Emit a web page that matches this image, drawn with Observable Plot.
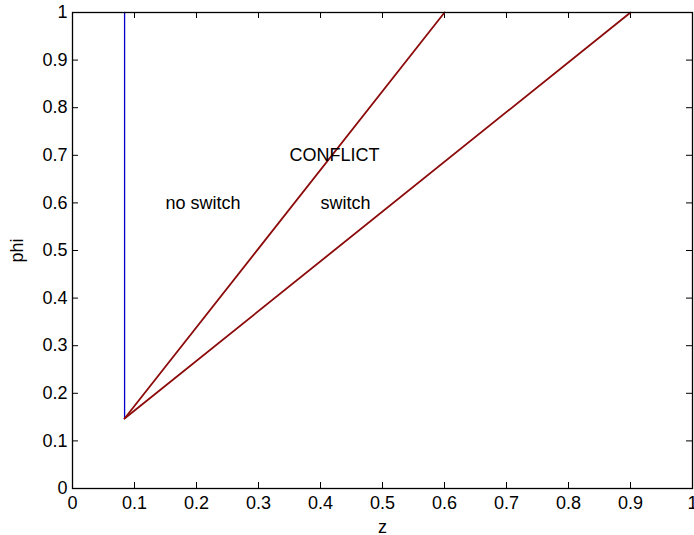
<!DOCTYPE html>
<html>
<head>
<meta charset="utf-8">
<script src="https://cdn.jsdelivr.net/npm/d3@7"></script>
<script src="https://cdn.jsdelivr.net/npm/@observablehq/plot@0.6"></script>
<style>
  html, body { margin: 0; padding: 0; background: #fff; }
  #chart svg { display: block; }
</style>
</head>
<body>
<div id="chart"></div>
<script>
// Tick values
const xTicks = [0, 0.1, 0.2, 0.3, 0.4, 0.5, 0.6, 0.7, 0.8, 0.9, 1];
const yTicks = [0, 0.1, 0.2, 0.3, 0.4, 0.5, 0.6, 0.7, 0.8, 0.9, 1];

// Boundary lines (z, phi endpoints)
const verticalZ = [0.084, 0.084];
const verticalPhi = [0.147, 1];
const upperZ = [0.084, 0.6];
const upperPhi = [0.147, 1];
const lowerZ = [0.084, 0.9];
const lowerPhi = [0.147, 1];

// Region labels
const labelText = ["no switch", "CONFLICT", "switch"];
const labelZ = [0.15, 0.35, 0.4];
const labelPhi = [0.6, 0.7, 0.6];

const toPts = (zs, ps) => zs.map((z, i) => ({z, phi: ps[i]}));
const vertical = toPts(verticalZ, verticalPhi);
const upper = toPts(upperZ, upperPhi);
const lower = toPts(lowerZ, lowerPhi);
const labels = labelText.map((t, i) => ({t, z: labelZ[i], phi: labelPhi[i]}));

const W = 694, H = 535, ML = 72, MR = 2, MT = 12, MB = 47;
const innerW = W - ML - MR, innerH = H - MT - MB, tick = 6;
const innerTicksX = xTicks.filter(d => d > 0 && d < 1);
const innerTicksY = yTicks.filter(d => d > 0 && d < 1);

const chart = Plot.plot({
  width: W,
  height: H,
  marginLeft: ML,
  marginRight: MR,
  marginTop: MT,
  marginBottom: MB,
  style: {fontFamily: "'Liberation Sans', Arial, sans-serif", fontSize: "18px", background: "#fff", color: "#000"},
  x: {domain: [0, 1]},
  y: {domain: [0, 1]},
  marks: [
    Plot.axisX({ticks: xTicks, tickSize: 0, tickPadding: 8, tickFormat: d => String(d), label: "z", labelAnchor: "center", labelOffset: 44, labelArrow: "none", fontSize: 18}),
    Plot.axisY({ticks: yTicks, tickSize: 0, tickPadding: 5, tickFormat: d => String(d), label: "phi", labelAnchor: "center", labelOffset: 62, labelArrow: "none", fontSize: 18}),
    Plot.ruleX(innerTicksX, {x: d => d, insetTop: innerH - tick, stroke: "#000"}),
    Plot.ruleX(innerTicksX, {x: d => d, insetBottom: innerH - tick, stroke: "#000"}),
    Plot.ruleY(innerTicksY, {y: d => d, insetRight: innerW - tick, stroke: "#000"}),
    Plot.ruleY(innerTicksY, {y: d => d, insetLeft: innerW - tick, stroke: "#000"}),
    Plot.line(vertical, {x: "z", y: "phi", stroke: "#0000cc", strokeWidth: 1.3}),
    Plot.line(upper, {x: "z", y: "phi", stroke: "#8c0a0a", strokeWidth: 1.8}),
    Plot.line(lower, {x: "z", y: "phi", stroke: "#8c0a0a", strokeWidth: 1.8}),
    Plot.text(labels, {x: "z", y: "phi", text: "t", textAnchor: "start", fill: "#000", fontSize: 18}),
    Plot.frame({stroke: "#000", strokeWidth: 1.3})
  ]
});
document.getElementById("chart").append(chart);
</script>
</body>
</html>
